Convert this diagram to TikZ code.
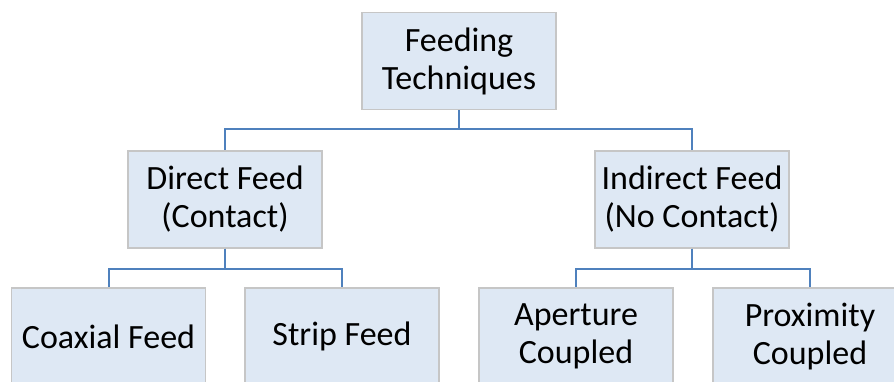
\documentclass[tikz,border=0pt]{standalone}
\usepackage{fontspec}
\setmainfont{Carlito}
\definecolor{boxfill}{HTML}{DEE8F4}
\definecolor{boxline}{HTML}{C6C6C6}
\definecolor{linkblue}{HTML}{4F81BD}
\tikzset{
	feedbox/.style={draw=boxline, line width=1.2pt, fill=boxfill, minimum width=194pt, minimum height=97pt, align=center, inner sep=0pt, font=\fontsize{34}{38}\selectfont},
	link/.style={draw=linkblue, line width=2pt}
}

\begin{document}
\begin{tikzpicture}[x=1pt, y=-1pt]
			%%%%% START %%%%%
			\useasboundingbox (0, 0) rectangle (894, 381);
			
			\node[feedbox] (tech) at (459, 61) {Feeding\\Techniques};
			
			\node[feedbox] (direct) at (225, 199.5) {Direct Feed\\(Contact)};
			\node[feedbox] (indirect) at (692, 199.5) {Indirect Feed\\(No Contact)};
			
			\node[feedbox] (coax) at (108.5, 336.5) {Coaxial Feed};
			\node[feedbox] (strip) at (342, 336.5) {Strip Feed};
			\node[feedbox] (aper) at (576, 336.5) {Aperture\\Coupled};
			\node[feedbox] (prox) at (810, 336.5) {Proximity\\Coupled};
			
			\draw[link] (tech.south) -- ++(0, 19) -| (direct.north);
			\draw[link] (tech.south) -- ++(0, 19) -| (indirect.north);
			
			\draw[link] (direct.south) -- ++(0, 20) -| (coax.north);
			\draw[link] (direct.south) -- ++(0, 20) -| (strip.north);
			
			\draw[link] (indirect.south) -- ++(0, 20) -| (aper.north);
			\draw[link] (indirect.south) -- ++(0, 20) -| (prox.north);
			
			%%%%% END %%%%%
\end{tikzpicture}
\end{document}
